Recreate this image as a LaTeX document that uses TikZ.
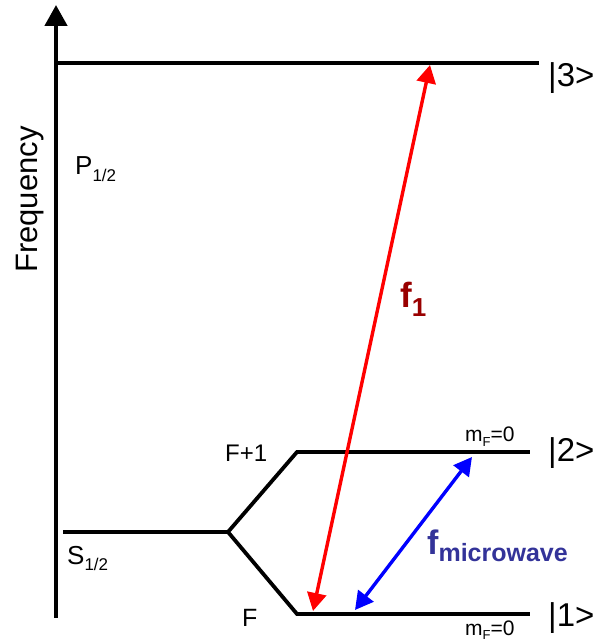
\documentclass[tikz,border=0pt]{standalone}
\usepackage{fontspec}
\setmainfont{Liberation Sans}
\usetikzlibrary{arrows.meta}
\definecolor{fonered}{RGB}{153,0,0}
\definecolor{mwblue}{RGB}{51,51,153}
\tikzset{
  level/.style={line width=3.8pt, line cap=rect},
  lbl/.style={inner sep=0pt, anchor=base west},
  transition/.style={line width=3.4pt, {Triangle[length=18pt,width=19pt]}-{Triangle[length=18pt,width=19pt]}},
}
\newcommand{\fs}[1]{\fontsize{#1}{#1}\selectfont}
\begin{document}
\begin{tikzpicture}[x=1pt,y=1pt]
\useasboundingbox (0,0) rectangle (602,644);
% axis
\coordinate (ax0) at (56,26);
\coordinate (ax1) at (56,639);
\draw[line width=4.5pt, -{Triangle[length=21pt,width=22pt]}] (ax0) -- (ax1);
\node[lbl, rotate=90] (freq) at (37,371) {\fs{31}Frequency};
% levels
\coordinate (p0) at (56,581);
\coordinate (p1) at (537,581);
\draw[level] (p0) -- (p1);
\coordinate (s0) at (65,112);
\coordinate (br) at (228,112);
\coordinate (u1) at (297,192);
\coordinate (u2) at (528,192);
\coordinate (l1) at (297,30);
\coordinate (l2) at (528,30);
\draw[level] (s0) -- (br);
\draw[level, line join=miter] (u2) -- (u1) -- (br) -- (l1) -- (l2);
% labels
\node[lbl] (k3) at (548,557) {\fs{33}|3>};
\node[lbl] (k2) at (548,182) {\fs{33}|2>};
\node[lbl] (k1) at (548,17) {\fs{33}|1>};
\node[lbl] (P) at (75,469) {\fs{26}P\raisebox{-7pt}{\fs{17}1/2}};
\node[lbl] (S) at (67,79) {\fs{26}S\raisebox{-6pt}{\fs{17}1/2}};
\node[lbl] (Fp) at (225,182) {\fs{24}F+1};
\node[lbl] (F) at (242,17) {\fs{25}F};
\node[lbl] (mu) at (465,202) {\fs{21}m\raisebox{-5pt}{\fs{13}F}=0};
\node[lbl] (ml) at (465,9) {\fs{21}m\raisebox{-4pt}{\fs{13}F}=0};
% transitions
\coordinate (r1) at (430,579);
\coordinate (r0) at (313,33);
\draw[transition, red] (r0) -- (r1);
\coordinate (b1) at (472,187);
\coordinate (b0) at (355,34);
\draw[transition, blue] (b0) -- (b1);
\node[lbl, text=fonered] (f1) at (400,336) {\bfseries\fs{35}f\raisebox{-9pt}{\fs{26}1}};
\node[lbl, text=mwblue] (fmw) at (427,89) {\bfseries\fs{34}f\raisebox{-7pt}{\fs{25}microwave}};
\end{tikzpicture}
\end{document}
